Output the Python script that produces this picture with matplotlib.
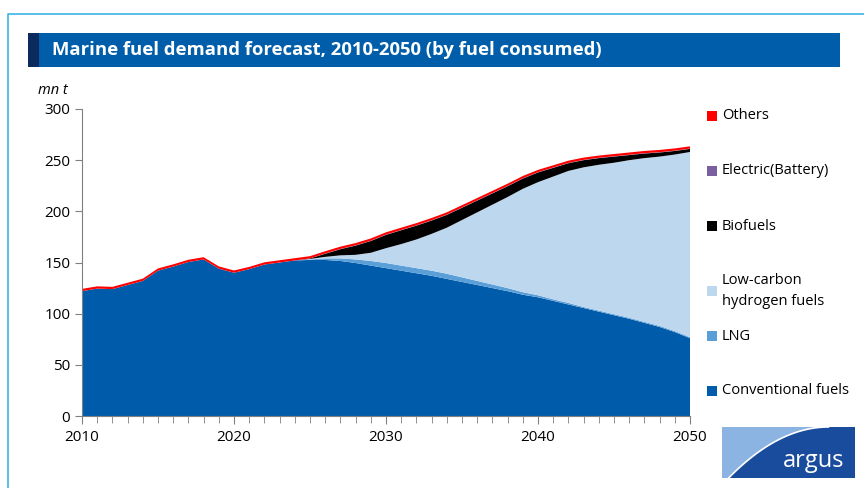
import matplotlib.pyplot as plt
from matplotlib.patches import Rectangle, Polygon
from matplotlib.lines import Line2D
import numpy as np

# years and series (mn t)
years = list(range(2010, 2051))
conventional = [122, 124.5, 124, 128, 132, 142, 146, 150.5, 153, 144,
                140, 143.5, 148, 150, 152, 152.5, 152.5, 151.5, 149.5, 147,
                144.5, 142, 139.5, 137, 134, 131, 128, 125, 122, 118.5,
                116, 112.5, 109, 105.5, 102, 98.5, 95, 91, 87, 82, 76]
lng = [0] * 15 + [0.5, 1.5, 2.5, 3.5, 4.5, 5, 5, 5, 5, 5, 4.5, 4, 3.5, 3, 2.5,
                  2, 1.5, 1.5, 1, 1, 1, 1, 1, 1, 1, 1]
hydrogen = [0] * 15 + [0.5, 1.5, 3, 4.5, 8, 14.5, 21, 28, 36, 45, 56, 67, 78, 89, 101,
                       110.5, 120, 129, 136.5, 142.5, 148, 154, 160, 165.5, 172.5, 181]
biofuels = [0] * 15 + [0.5, 3, 6, 9, 11.5, 13, 13.5, 13.5, 13, 12.5, 12, 11.5, 11, 10.5, 10,
                       9.5, 8.5, 7.5, 7, 6.5, 6, 5, 4.5, 4, 3.5, 3]
electric = [0] * 16 + [0.3] * 25
others = [2.2] * 41

labels = ["Conventional fuels", "LNG", "Low-carbon\nhydrogen fuels", "Biofuels",
          "Electric(Battery)", "Others"]
colors = ["#005BAA", "#5B9FD8", "#BDD7EE", "#000000", "#7B5EA0", "#FF0000"]

fig = plt.figure(figsize=(8.64, 4.88), dpi=100)
W, H = 864, 488

def fx(px):
    return px / W

def fy(py):
    return 1 - py / H

# outer frame
fig.add_artist(Line2D([fx(8), fx(8), 1], [0, fy(14), fy(14)], color="#3CB4E5", lw=1.2))

# title bar
fig.add_artist(Rectangle((fx(28), fy(67)), fx(812), 34 / H, color="#005DAA", lw=0))
fig.add_artist(Rectangle((fx(28), fy(67)), fx(11), 34 / H, color="#0B2A5E", lw=0))
fig.text(fx(52), fy(50), "Marine fuel demand forecast, 2010-2050 (by fuel consumed)",
         color="white", fontsize=13.3, fontweight="bold", va="center",
         family="Open Sans")

ax = fig.add_axes([fx(82), fy(416), fx(608), 307 / H])
ax.stackplot(years, conventional, lng, hydrogen, biofuels, electric, others,
             colors=colors, lw=0)
ax.set_xlim(2010, 2050)
ax.set_ylim(0, 300)
ax.set_xticks(range(2010, 2051, 10))
ax.set_xticks(years, minor=True)
ax.set_yticks(range(0, 301, 50))
for s in ["top", "right"]:
    ax.spines[s].set_visible(False)
for s in ["left", "bottom"]:
    ax.spines[s].set_color("#808080")
ax.tick_params(axis="both", which="both", direction="out", colors="#808080",
               labelcolor="black", labelsize=11)
ax.tick_params(axis="x", which="major", length=6, pad=4)
ax.tick_params(axis="x", which="minor", length=5)
ax.tick_params(axis="y", length=5)
for t in ax.get_xticklabels() + ax.get_yticklabels():
    t.set_family("Open Sans")

fig.text(fx(38), fy(90), "mn t", fontsize=10.5, style="italic", va="center",
         family="Open Sans")

# legend (top to bottom)
leg_y = [116, 171, 226, 291, 336, 391]
for lab, col, y in zip(labels[::-1], colors[::-1], leg_y):
    fig.add_artist(Rectangle((fx(707), fy(y + 5)), fx(10), 10 / H, color=col, lw=0))
    fig.text(fx(722), fy(y), lab, fontsize=10.5, va="center", family="Open Sans",
             linespacing=1.5)

# argus logo
lax = fig.add_axes([fx(722), fy(478), fx(133), 51 / H])
lax.set_xlim(0, 1)
lax.set_ylim(0, 1)
lax.axis("off")
lax.add_patch(Rectangle((0, 0), 1, 1, color="#8CB4E2", lw=0))
t = np.linspace(0, 1, 60)
cx = 0.05 + 0.75 * t
cy = 1 - (1 - t) ** 2
pts = list(zip(cx, cy)) + [(1, 1), (1, 0), (0.05, 0)]
lax.add_patch(Polygon(pts, closed=True, color="#1A4C9E", lw=0))
lax.plot(cx, cy, color="white", lw=1.2)
lax.text(0.92, 0.33, "argus", color="white", fontsize=17, ha="right", va="center",
         family="Open Sans")

fig.savefig("out.png", dpi=100)
